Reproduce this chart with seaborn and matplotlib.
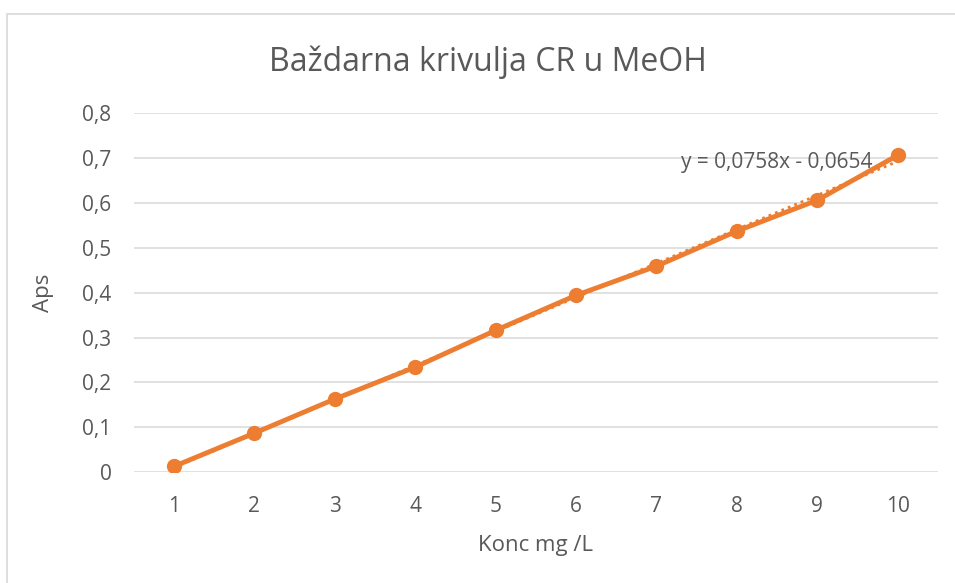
import matplotlib.pyplot as plt
import seaborn as sns
import pandas as pd
from matplotlib.patches import Rectangle

# Calibration data
konc = [1, 2, 3, 4, 5, 6, 7, 8, 9, 10]
aps = [0.013, 0.087, 0.163, 0.234, 0.316, 0.394, 0.459, 0.537, 0.606, 0.706]
slope, intercept = 0.0758, -0.0654
y_ticks = [0, 0.1, 0.2, 0.3, 0.4, 0.5, 0.6, 0.7, 0.8]

df = pd.DataFrame({'konc': konc, 'aps': aps})
df['trend'] = slope * df['konc'] + intercept

sns.set_theme(style="white")
plt.rcParams['font.family'] = ['Open Sans', 'DejaVu Sans']

orange = '#ED7D31'
text_col = '#595959'
grid_col = '#D9D9D9'

fig = plt.figure(figsize=(9.55, 5.83), dpi=100)
ax = fig.add_axes([0.140, 0.190, 0.842, 0.616])

# outer chart border (top and left visible)
fig.patches.append(Rectangle((7 / 955, -0.05), 1.2, (583 - 14) / 583 + 0.05,
                             transform=fig.transFigure, fill=False,
                             edgecolor='#D9D9D9', linewidth=1.2))

for yv in y_ticks:
    ax.axhline(yv, color=grid_col, linewidth=1.1, zorder=0)

sns.lineplot(data=df, x='konc', y='aps', color=orange, linewidth=3.5,
             marker='o', markersize=11, markeredgewidth=0, ax=ax, zorder=3)
sns.lineplot(data=df, x='konc', y='trend', color=orange, linewidth=2,
             linestyle=(0, (1, 1.5)), ax=ax, zorder=2)

ax.set_xlim(0.5, 10.5)
ax.set_ylim(0, 0.8)
ax.set_xticks(konc)
ax.set_xticklabels([str(k) for k in konc])
ax.set_yticks(y_ticks)
ax.set_yticklabels([f"{v:.1f}".replace('.', ',') if v else '0' for v in y_ticks])
ax.tick_params(axis='both', length=0, labelsize=15, labelcolor=text_col)
ax.tick_params(axis='y', pad=16)
ax.tick_params(axis='x', pad=17)
for s in ax.spines.values():
    s.set_visible(False)

ax.set_xlabel('Konc mg /L', fontsize=16, color=text_col, labelpad=13)
ax.set_ylabel('Aps', fontsize=16, color=text_col, labelpad=20)
fig.text(488 / 955, 1 - 62 / 583, 'Baždarna krivulja CR u MeOH', fontsize=23,
         color=text_col, ha='center', va='center')

ax.text(9.69, 0.689, 'y = 0,0758x - 0,0654', fontsize=15, color=text_col,
        ha='right', va='center', zorder=4)

fig.savefig('out.png', dpi=100)
plt.close(fig)
